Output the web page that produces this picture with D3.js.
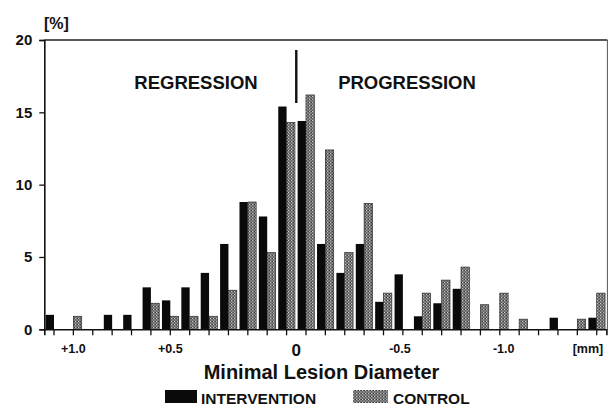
<!DOCTYPE html>
<html>
<head>
<meta charset="utf-8">
<script src="https://cdn.jsdelivr.net/npm/d3@7"></script>
<style>
  body { margin: 0; background: #fff; }
  svg { display: block; font-family: "Liberation Sans", Arial, sans-serif; }
  .lbl { font-weight: bold; fill: #111; }
</style>
</head>
<body>
<div id="chart"></div>
<script>
// bins of 0.1 mm change in minimal lesion diameter, left = regression, right = progression
var bins = d3.range(29);

// percent of lesions per bin
var intervention = [1.0, 0, 0, 1.0, 1.0, 2.9, 2.0, 2.9, 3.9, 5.9, 8.8, 7.8, 15.4, 14.4, 5.9,
                    3.9, 5.9, 1.9, 3.8, 0.9, 1.8, 2.8, 0, 0, 0, 0, 0.8, 0, 0.8];
var control = [0, 0.9, 0, 0, 0, 1.8, 0.9, 0.9, 0.9, 2.7, 8.8, 5.3, 14.3, 16.2, 12.4,
               5.3, 8.7, 2.5, 0, 2.5, 3.4, 4.3, 1.7, 2.5, 0.7, 0, 0, 0.7, 2.5];

var yTicks = [0, 5, 10, 15, 20];
// x labels as printed, and where they sit (in bin units)
var xLabels = ["+1.0", "+0.5", "0", "-0.5", "-1.0", "[mm]"];
var xLabelPos = [1, 6, 12.5, 17.85, 23.2, 27.55];

var ctx = {
  w: 614,
  h: 408,
  left: 44.3,
  right: 606.4,
  top: 40,
  bottom: 329.3
};

var svg = d3.select("#chart").append("svg")
  .attr("width", ctx.w)
  .attr("height", ctx.h);

var defs = svg.append("defs");
var pat = defs.append("pattern")
  .attr("id", "speckle")
  .attr("width", 3)
  .attr("height", 3)
  .attr("patternUnits", "userSpaceOnUse");
pat.append("rect").attr("width", 3).attr("height", 3).attr("fill", "#6c6c6c");
pat.append("rect").attr("x", 0).attr("y", 0).attr("width", 1).attr("height", 1).attr("fill", "#c8c8c8");
pat.append("rect").attr("x", 1.5).attr("y", 1.5).attr("width", 1).attr("height", 1).attr("fill", "#b4b4b4");
pat.append("rect").attr("x", 2).attr("y", 0).attr("width", 1).attr("height", 1).attr("fill", "#3a3a3a");

var x = d3.scaleBand()
  .domain(bins)
  .range([ctx.left, ctx.right])
  .padding(0);

var xl = d3.scaleLinear()
  .domain([-0.5, 28.5])
  .range([ctx.left, ctx.right]);

var y = d3.scaleLinear()
  .domain([0, 20])
  .range([ctx.bottom, ctx.top]);

var bw = x.bandwidth() * 0.43;
var center = function(i) { return x(i) + x.bandwidth() / 2; };

// frame: top and right
svg.append("line")
  .attr("x1", ctx.left).attr("x2", ctx.right + 1)
  .attr("y1", y(20)).attr("y2", y(20))
  .attr("stroke", "#222").attr("stroke-width", 1.3);
svg.append("line")
  .attr("x1", ctx.right + 1).attr("x2", ctx.right + 1)
  .attr("y1", y(20)).attr("y2", y(0))
  .attr("stroke", "#555").attr("stroke-width", 1);

// bars
svg.append("g").selectAll("rect")
  .data(bins.filter(function(i) { return intervention[i] > 0; }))
  .enter().append("rect")
  .attr("x", function(i) { return center(i) - bw; })
  .attr("y", function(i) { return y(intervention[i]); })
  .attr("width", bw)
  .attr("height", function(i) { return y(0) - y(intervention[i]); })
  .attr("fill", "#0a0a0a");

svg.append("g").selectAll("rect")
  .data(bins.filter(function(i) { return control[i] > 0; }))
  .enter().append("rect")
  .attr("x", function(i) { return center(i); })
  .attr("y", function(i) { return y(control[i]); })
  .attr("width", bw)
  .attr("height", function(i) { return y(0) - y(control[i]); })
  .attr("fill", "url(#speckle)")
  .attr("stroke", "#2a2a2a")
  .attr("stroke-width", 0.7);

// y axis
var yAxis = svg.append("g")
  .attr("transform", "translate(" + ctx.left + ",0)")
  .call(d3.axisLeft(y).tickValues(yTicks).tickSize(5).tickPadding(7));
yAxis.select(".domain").attr("stroke", "#111").attr("stroke-width", 1.6);
yAxis.selectAll(".tick line").attr("stroke", "#111").attr("stroke-width", 1.3);
yAxis.selectAll("text")
  .attr("class", "lbl")
  .style("font-size", "15px")
  .style("font-family", "Liberation Sans, Arial, sans-serif");

// x axis
var xAxis = svg.append("g")
  .attr("transform", "translate(0," + ctx.bottom + ")")
  .call(d3.axisBottom(x).tickSize(6).tickFormat(""));
xAxis.select(".domain").attr("stroke", "#111").attr("stroke-width", 1.6);
xAxis.selectAll(".tick line").attr("stroke", "#111").attr("stroke-width", 1.3);

svg.append("g").selectAll("text")
  .data(xLabels)
  .enter().append("text")
  .attr("class", "lbl")
  .attr("x", function(d, i) { return xl(xLabelPos[i]); })
  .attr("y", function(d) { return d === "0" ? 356 : 353; })
  .attr("text-anchor", "middle")
  .style("font-size", function(d) { return d === "0" ? "17px" : "12.5px"; })
  .text(function(d) { return d; });

// unit label
svg.append("text")
  .attr("class", "lbl")
  .attr("x", 44).attr("y", 29)
  .style("font-size", "16px")
  .text("[%]");

// divider between regression and progression
svg.append("line")
  .attr("x1", xl(12.5)).attr("x2", xl(12.5))
  .attr("y1", 50).attr("y2", 103)
  .attr("stroke", "#111").attr("stroke-width", 2.4);

svg.append("text")
  .attr("class", "lbl")
  .attr("x", 196).attr("y", 89)
  .attr("text-anchor", "middle")
  .style("font-size", "18.5px")
  .text("REGRESSION");
svg.append("text")
  .attr("class", "lbl")
  .attr("x", 407).attr("y", 89)
  .attr("text-anchor", "middle")
  .style("font-size", "18.5px")
  .text("PROGRESSION");

svg.append("text")
  .attr("class", "lbl")
  .attr("x", 321.5).attr("y", 379)
  .attr("text-anchor", "middle")
  .style("font-size", "20px")
  .text("Minimal Lesion Diameter");

// legend
var legend = [
  {name: "INTERVENTION", fill: "#0a0a0a", x: 165},
  {name: "CONTROL", fill: "url(#speckle)", x: 353}
];
var lg = svg.append("g").selectAll("g")
  .data(legend)
  .enter().append("g")
  .attr("transform", function(d) { return "translate(" + d.x + ",390)"; });
lg.append("rect")
  .attr("width", function(d, i) { return i === 0 ? 32 : 35; })
  .attr("height", 13)
  .attr("fill", function(d) { return d.fill; });
lg.append("text")
  .attr("class", "lbl")
  .attr("x", function(d, i) { return i === 0 ? 36 : 40; })
  .attr("y", 13.5)
  .style("font-size", "15.5px")
  .text(function(d) { return d.name; });
</script>
</body>
</html>
